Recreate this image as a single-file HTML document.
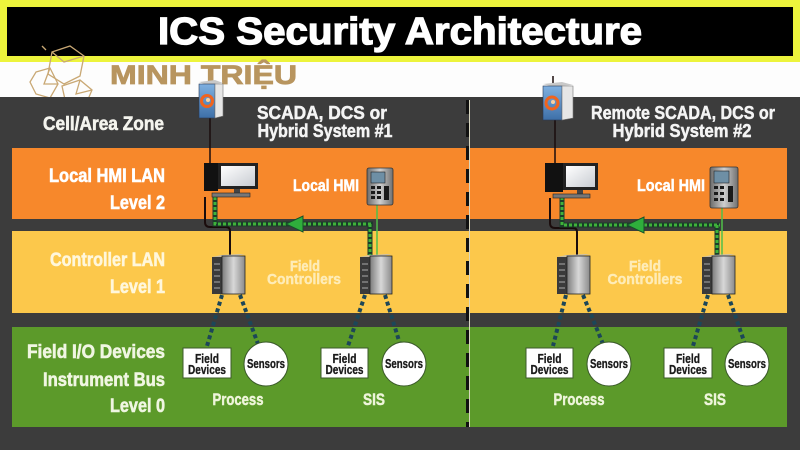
<!DOCTYPE html>
<html><head><meta charset="utf-8"><style>
html,body{margin:0;padding:0;background:#3c3c3c;}
svg{display:block;}
text{font-family:"Liberation Sans",Arial,sans-serif;font-weight:bold;}
</style></head><body>
<svg width="800" height="450" viewBox="0 0 800 450" xmlns="http://www.w3.org/2000/svg">
<defs>
<linearGradient id="scr" x1="0" y1="0" x2="1" y2="1"><stop offset="0" stop-color="#ffffff"/><stop offset="1" stop-color="#c8ccd2"/></linearGradient>
<linearGradient id="ctl" x1="0" y1="0" x2="1" y2="0"><stop offset="0" stop-color="#7c7c7c"/><stop offset="0.5" stop-color="#d8d8d8"/><stop offset="1" stop-color="#8a8a8a"/></linearGradient>
<linearGradient id="fw" x1="0" y1="0" x2="0" y2="1"><stop offset="0" stop-color="#7fb0e0"/><stop offset="1" stop-color="#3d6fa8"/></linearGradient>
<linearGradient id="hmi" x1="0" y1="0" x2="1" y2="0"><stop offset="0" stop-color="#6a6a6a"/><stop offset="0.5" stop-color="#cfcfcf"/><stop offset="1" stop-color="#707070"/></linearGradient>
</defs>

<!-- header -->
<rect x="0" y="0" width="800" height="97" fill="#fdfdfd"/>
<rect x="0" y="0" width="800" height="62" fill="#edf43c"/>
<rect x="7" y="7" width="786" height="49" fill="#000"/>
<text x="400" y="44" font-size="38" fill="#fff" stroke="#fff" stroke-width="1.3" text-anchor="middle" textLength="484" lengthAdjust="spacingAndGlyphs">ICS Security Architecture</text>

<!-- logo -->
<g fill="none" stroke="#c9a874" stroke-width="1.3">
<polygon points="52,52 70,46 84,56 80,76 64,84 48,74"/>
<polyline points="52,52 64,62 84,56 M64,62 64,84 M64,62 48,74 M70,46 64,62 M52,52 58,70 64,62"/>
<polygon points="36,72 50,68 58,84 50,98 36,94 30,82"/>
<polyline points="50,68 44,84 58,84 M44,84 36,94 M44,84 50,98 M30,82 44,84"/>
<polygon points="62,86 80,80 92,90 86,104 66,104"/>
<polyline points="80,80 76,94 92,90 M76,94 66,104 M76,94 86,104 M62,86 76,94"/>
<polyline points="46,50 42,46 M48,46 50,42 M86,52 92,48 M88,80 96,74 M78,46 74,42"/>
</g>
<text x="110" y="84" font-size="27" fill="#b8955f" stroke="#b8955f" stroke-width="0.8" textLength="187" lengthAdjust="spacingAndGlyphs">MINH TRIỆU</text>

<!-- panel -->
<rect x="0" y="97" width="800" height="353" fill="#3c3c3c"/>
<rect x="12" y="148" width="775" height="71" fill="#f7882b"/>
<rect x="12" y="231" width="775" height="82" fill="#fcc84b"/>
<rect x="12" y="327" width="775" height="100" fill="#5c9a2a"/>

<!-- divider -->
<line x1="469.5" y1="100" x2="469.5" y2="427" stroke="#d9d7c0" stroke-width="1"/>
<line x1="467.5" y1="100" x2="467.5" y2="427" stroke="#111" stroke-width="3" stroke-dasharray="14 9"/>

<!-- left labels -->
<g text-anchor="end" stroke-width="0.6">
<text x="164" y="130" font-size="19" fill="#f4f4ee" stroke="#f4f4ee" textLength="121" lengthAdjust="spacingAndGlyphs">Cell/Area Zone</text>
<text x="165" y="182" font-size="19" fill="#fff" stroke="#fff" textLength="116" lengthAdjust="spacingAndGlyphs">Local HMI LAN</text>
<text x="165" y="209" font-size="19" fill="#fff" stroke="#fff" textLength="55" lengthAdjust="spacingAndGlyphs">Level 2</text>
<text x="165" y="266" font-size="19" fill="#fff7dc" stroke="#fff7dc" textLength="115" lengthAdjust="spacingAndGlyphs">Controller LAN</text>
<text x="165" y="293" font-size="19" fill="#fff7dc" stroke="#fff7dc" textLength="55" lengthAdjust="spacingAndGlyphs">Level 1</text>
<text x="165" y="358" font-size="19" fill="#f0f6e2" stroke="#f0f6e2" textLength="138" lengthAdjust="spacingAndGlyphs">Field I/O Devices</text>
<text x="165" y="386" font-size="19" fill="#f0f6e2" stroke="#f0f6e2" textLength="122" lengthAdjust="spacingAndGlyphs">Instrument Bus</text>
<text x="165" y="412" font-size="19" fill="#f0f6e2" stroke="#f0f6e2" textLength="55" lengthAdjust="spacingAndGlyphs">Level 0</text>
</g>

<g fill="#f4f4f4" stroke="#f4f4f4" stroke-width="0.5" text-anchor="middle">
<text x="322" y="119" font-size="18" textLength="130" lengthAdjust="spacingAndGlyphs">SCADA, DCS or</text>
<text x="325" y="137" font-size="18" textLength="135" lengthAdjust="spacingAndGlyphs">Hybrid System #1</text>
<text x="683" y="119" font-size="18" textLength="184" lengthAdjust="spacingAndGlyphs">Remote SCADA, DCS or</text>
<text x="682" y="137" font-size="18" textLength="139" lengthAdjust="spacingAndGlyphs">Hybrid System #2</text>
</g>

<g fill="#fff" stroke="#fff" stroke-width="0.5" font-size="17">
<text x="293" y="191" textLength="66" lengthAdjust="spacingAndGlyphs">Local HMI</text>
<text x="637" y="191" textLength="68" lengthAdjust="spacingAndGlyphs">Local HMI</text>
</g>
<g fill="#fff3cc" stroke="#fff3cc" stroke-width="0.4" font-size="15" text-anchor="middle" opacity="0.85">
<text x="305" y="271" textLength="30" lengthAdjust="spacingAndGlyphs">Field</text>
<text x="304" y="284" textLength="74" lengthAdjust="spacingAndGlyphs">Controllers</text>
<text x="645" y="271" textLength="32" lengthAdjust="spacingAndGlyphs">Field</text>
<text x="645" y="284" textLength="75" lengthAdjust="spacingAndGlyphs">Controllers</text>
</g>
<g fill="#eef5da" stroke="#eef5da" stroke-width="0.5" font-size="17" text-anchor="middle">
<text x="238" y="405" textLength="51" lengthAdjust="spacingAndGlyphs">Process</text>
<text x="374" y="405" textLength="22" lengthAdjust="spacingAndGlyphs">SIS</text>
<text x="579" y="405" textLength="51" lengthAdjust="spacingAndGlyphs">Process</text>
<text x="715" y="405" textLength="22" lengthAdjust="spacingAndGlyphs">SIS</text>
</g>

<!-- connectors level 0 -->
<g stroke="#1c4658" stroke-width="4" stroke-dasharray="4 3" fill="none">
<line x1="222" y1="295" x2="207" y2="346"/>
<line x1="240" y1="295" x2="258" y2="344"/>
<line x1="365" y1="295" x2="348" y2="346"/>
<line x1="385" y1="295" x2="400" y2="344"/>
<line x1="566" y1="295" x2="553" y2="346"/>
<line x1="583" y1="295" x2="603" y2="344"/>
<line x1="708" y1="295" x2="693" y2="346"/>
<line x1="728" y1="295" x2="745" y2="344"/>
</g>

<!-- black lines -->
<g stroke="#1a0c0c" fill="none">
<line x1="210" y1="118" x2="210" y2="163" stroke-width="1.5"/>
<line x1="555" y1="120" x2="555" y2="163" stroke-width="1.5"/>
<line x1="553" y1="76" x2="553" y2="83" stroke-width="1.5"/>
<path d="M205 197 V222 Q205 227 210 227 H226 Q230 227 230 231 V255" stroke-width="2"/>
<path d="M550 198 V223 Q550 228 555 228 H573 Q577 228 577 232 V255" stroke-width="2"/>
</g>

<!-- green lines -->
<g fill="none">
<path d="M215 197 V224 H373 M370 224 V255" stroke="#1b3d2a" stroke-width="5"/>
<path d="M215 197 V224 H373 M370 224 V255" stroke="#3fb23a" stroke-width="3" stroke-dasharray="3 2"/>
<path d="M562 197 V225 H720 M717 225 V255" stroke="#1b3d2a" stroke-width="5"/>
<path d="M562 197 V225 H720 M717 225 V255" stroke="#3fb23a" stroke-width="3" stroke-dasharray="3 2"/>
<line x1="377" y1="205" x2="377" y2="256" stroke="#50c04a" stroke-width="1.5"/>
<line x1="722" y1="208" x2="722" y2="256" stroke="#50c04a" stroke-width="1.5"/>
</g>
<polygon points="286,224 303,216 303,232" fill="#2fae3c" stroke="#17502a" stroke-width="1"/>
<polygon points="627,225 644,217 644,233" fill="#2fae3c" stroke="#17502a" stroke-width="1"/>

<!-- firewalls -->
<g>
<polygon points="199,82 215,80 223,83 207,85" fill="#c8c8c8"/>
<rect x="199" y="84" width="16" height="34" fill="url(#fw)" stroke="#2a3a55" stroke-width="0.6"/>
<polygon points="215,84 223,84 223,116 215,118" fill="#e6e6e6" stroke="#777" stroke-width="0.6"/>
<circle cx="207" cy="101" r="5.5" fill="none" stroke="#f0641e" stroke-width="3"/>
<circle cx="208" cy="100" r="2" fill="#fbd0a0"/>
<polygon points="543,84 562,82 573,85 554,87" fill="#c8c8c8"/>
<rect x="543" y="86" width="19" height="34" fill="url(#fw)" stroke="#2a3a55" stroke-width="0.6"/>
<polygon points="562,86 573,86 573,118 562,120" fill="#e6e6e6" stroke="#777" stroke-width="0.6"/>
<circle cx="552" cy="103" r="6" fill="none" stroke="#f0641e" stroke-width="3"/>
<circle cx="553" cy="102" r="2" fill="#fbd0a0"/>
</g>

<!-- computers -->
<g>
<rect x="204" y="163" width="14" height="28" fill="#111"/>
<rect x="218" y="163" width="40" height="26" fill="#222"/>
<rect x="221" y="166" width="34" height="20" fill="url(#scr)"/>
<rect x="234" y="189" width="6" height="4" fill="#444"/>
<rect x="212" y="193" width="38" height="4" fill="#777" stroke="#222" stroke-width="0.6"/>
<rect x="545" y="163" width="18" height="29" fill="#111"/>
<rect x="563" y="163" width="35" height="27" fill="#222"/>
<rect x="566" y="166" width="29" height="21" fill="url(#scr)"/>
<rect x="577" y="190" width="6" height="4" fill="#444"/>
<rect x="553" y="194" width="37" height="4" fill="#777" stroke="#222" stroke-width="0.6"/>
</g>

<!-- HMI devices -->
<g>
<rect x="367" y="168" width="26" height="37" rx="2" fill="url(#hmi)" stroke="#333" stroke-width="0.8"/>
<rect x="371" y="172" width="14" height="11" fill="#6e8fa5" stroke="#222" stroke-width="0.6"/>
<g fill="#1a1a1a"><rect x="371" y="186" width="4" height="3"/><rect x="377" y="186" width="4" height="3"/><rect x="371" y="191" width="4" height="3"/><rect x="377" y="191" width="4" height="3"/><rect x="371" y="196" width="4" height="3"/><rect x="377" y="196" width="4" height="3"/><rect x="384" y="186" width="5" height="14"/></g>
<rect x="710" y="167" width="28" height="41" rx="2" fill="url(#hmi)" stroke="#333" stroke-width="0.8"/>
<rect x="714" y="171" width="15" height="12" fill="#6e8fa5" stroke="#222" stroke-width="0.6"/>
<g fill="#1a1a1a"><rect x="714" y="186" width="4" height="3"/><rect x="720" y="186" width="4" height="3"/><rect x="714" y="192" width="4" height="3"/><rect x="720" y="192" width="4" height="3"/><rect x="714" y="198" width="4" height="3"/><rect x="720" y="198" width="4" height="3"/><rect x="728" y="186" width="5" height="16"/></g>
</g>

<!-- controllers -->
<g>
<polygon points="212,257 222,255 245,254 236,256" fill="#bdbdbd"/>
<rect x="212" y="257" width="10" height="37" fill="#3a3a3a"/>
<rect x="222" y="256" width="23" height="38" fill="url(#ctl)" stroke="#222" stroke-width="0.8"/>
<g stroke="#aaa" stroke-width="1"><line x1="214" y1="264" x2="220" y2="264"/><line x1="214" y1="270" x2="220" y2="270"/><line x1="214" y1="276" x2="220" y2="276"/><line x1="214" y1="282" x2="220" y2="282"/><line x1="214" y1="288" x2="220" y2="288"/></g>
</g>
<g>
<polygon points="360,257 370,255 392,254 383,256" fill="#bdbdbd"/>
<rect x="360" y="257" width="10" height="37" fill="#3a3a3a"/>
<rect x="370" y="256" width="22" height="38" fill="url(#ctl)" stroke="#222" stroke-width="0.8"/>
<g stroke="#aaa" stroke-width="1"><line x1="362" y1="264" x2="368" y2="264"/><line x1="362" y1="270" x2="368" y2="270"/><line x1="362" y1="276" x2="368" y2="276"/><line x1="362" y1="282" x2="368" y2="282"/><line x1="362" y1="288" x2="368" y2="288"/></g>
</g>
<g>
<polygon points="557,257 567,255 590,254 581,256" fill="#bdbdbd"/>
<rect x="557" y="257" width="10" height="37" fill="#3a3a3a"/>
<rect x="567" y="256" width="23" height="38" fill="url(#ctl)" stroke="#222" stroke-width="0.8"/>
<g stroke="#aaa" stroke-width="1"><line x1="559" y1="264" x2="565" y2="264"/><line x1="559" y1="270" x2="565" y2="270"/><line x1="559" y1="276" x2="565" y2="276"/><line x1="559" y1="282" x2="565" y2="282"/><line x1="559" y1="288" x2="565" y2="288"/></g>
</g>
<g>
<polygon points="702,257 712,255 735,254 726,256" fill="#bdbdbd"/>
<rect x="702" y="257" width="10" height="37" fill="#3a3a3a"/>
<rect x="712" y="256" width="23" height="38" fill="url(#ctl)" stroke="#222" stroke-width="0.8"/>
<g stroke="#aaa" stroke-width="1"><line x1="704" y1="264" x2="710" y2="264"/><line x1="704" y1="270" x2="710" y2="270"/><line x1="704" y1="276" x2="710" y2="276"/><line x1="704" y1="282" x2="710" y2="282"/><line x1="704" y1="288" x2="710" y2="288"/></g>
</g>

<!-- field devices & sensors -->
<g fill="#fff" stroke="#3b5a2a" stroke-width="1">
<rect x="183" y="348" width="48" height="30"/>
<rect x="321" y="348" width="47" height="30"/>
<rect x="526" y="348" width="47" height="30"/>
<rect x="664" y="348" width="48" height="30"/>
<circle cx="266" cy="364" r="22"/>
<circle cx="404" cy="364" r="22"/>
<circle cx="609" cy="364" r="22"/>
<circle cx="747" cy="364" r="22"/>
</g>
<g fill="#1a1a1a" stroke="#1a1a1a" stroke-width="0.3" font-size="12.5" text-anchor="middle">
<text x="207" y="363" textLength="24" lengthAdjust="spacingAndGlyphs">Field</text>
<text x="207" y="374" textLength="38" lengthAdjust="spacingAndGlyphs">Devices</text>
<text x="344.5" y="363" textLength="24" lengthAdjust="spacingAndGlyphs">Field</text>
<text x="344.5" y="374" textLength="38" lengthAdjust="spacingAndGlyphs">Devices</text>
<text x="549.5" y="363" textLength="24" lengthAdjust="spacingAndGlyphs">Field</text>
<text x="549.5" y="374" textLength="38" lengthAdjust="spacingAndGlyphs">Devices</text>
<text x="688" y="363" textLength="24" lengthAdjust="spacingAndGlyphs">Field</text>
<text x="688" y="374" textLength="38" lengthAdjust="spacingAndGlyphs">Devices</text>
<text x="266" y="368" textLength="38" lengthAdjust="spacingAndGlyphs">Sensors</text>
<text x="404" y="368" textLength="38" lengthAdjust="spacingAndGlyphs">Sensors</text>
<text x="609" y="368" textLength="38" lengthAdjust="spacingAndGlyphs">Sensors</text>
<text x="747" y="368" textLength="38" lengthAdjust="spacingAndGlyphs">Sensors</text>
</g>
</svg>
</body></html>
